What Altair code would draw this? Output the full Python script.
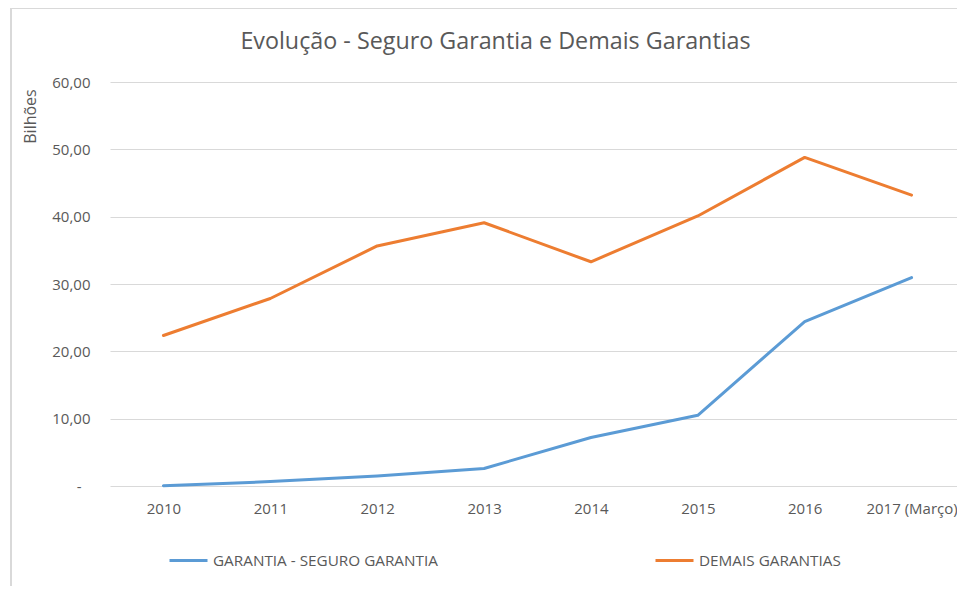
import altair as alt
import pandas as pd

anos = ["2010", "2011", "2012", "2013", "2014", "2015", "2016", "2017 (Março)"]
seguro_garantia = [0.05, 0.65, 1.5, 2.6, 7.2, 10.5, 24.4, 30.95]
demais_garantias = [22.35, 27.85, 35.65, 39.1, 33.3, 40.1, 48.8, 43.2]
series = ["GARANTIA - SEGURO GARANTIA", "DEMAIS GARANTIAS"]
cores = ["#5B9BD5", "#ED7D31"]
y_ticks = [0, 10, 20, 30, 40, 50, 60]

rows = []
for ano, a, b in zip(anos, seguro_garantia, demais_garantias):
    rows.append({"ano": ano, "serie": series[0], "valor": a})
    rows.append({"ano": ano, "serie": series[1], "valor": b})
df = pd.DataFrame(rows)

TXT = "#595959"
FONT = "Open Sans"

lines = alt.Chart(df).mark_line(strokeWidth=3, strokeCap="round", strokeJoin="round").encode(
    x=alt.X("ano:N", sort=anos, title=None,
            axis=alt.Axis(labelAngle=0, ticks=False, domain=False, grid=False,
                          labelPadding=15, labelFontSize=15, labelColor=TXT, labelFont=FONT)),
    y=alt.Y("valor:Q", scale=alt.Scale(domain=[0, 60], nice=False), title="Bilhões",
            axis=alt.Axis(values=y_ticks, ticks=False, domain=False, grid=True,
                          gridColor="#D9D9D9", gridWidth=1,
                          labelExpr="datum.value == 0 ? '-' : replace(format(datum.value, '.2f'), '.', ',')",
                          labelPadding={"condition": {"test": "datum.value === 0", "value": 29}, "value": 20},
                          labelFontSize=15, labelColor=TXT, labelFont=FONT,
                          titleFontSize=16, titleColor=TXT, titleFont=FONT, titleFontWeight="normal",
                          titleAngle=270, titleX=-80, titleY=34, titleAlign="center",
                          titleBaseline="middle")),
    color=alt.Color("serie:N", sort=series,
                    scale=alt.Scale(domain=series, range=cores),
                    legend=alt.Legend(title=None, orient="none", direction="horizontal",
                                      legendX=58, legendY=458, symbolType="stroke",
                                      symbolSize=1444, symbolStrokeWidth=3,
                                      labelFontSize=15.3, labelColor=TXT, labelFont=FONT,
                                      labelLimit=400, labelOffset=4, columnPadding=211)),
)

frame_left = alt.Chart(df).mark_rule(color="#D9D9D9", strokeWidth=2).encode(
    x=alt.value(-99), y=alt.value(-74), y2=alt.value(520))
frame_top = alt.Chart(df).mark_rule(color="#D9D9D9", strokeWidth=2).encode(
    x=alt.value(-99), x2=alt.value(900), y=alt.value(-74))

chart = alt.layer(frame_left, frame_top, lines).properties(
    width=855, height=404,
    autosize=alt.AutoSizeParams(type="none"),
    padding={"left": 102, "top": 74, "right": -8, "bottom": 100},
    title=alt.Title("Evolução - Seguro Garantia e Demais Garantias", fontSize=23.3,
                    font=FONT, fontWeight="normal", color=TXT, anchor="middle",
                    dx=-42, dy=47, offset=0),
).configure_view(stroke=None)

chart.save("out.html", embed_options={"renderer": "svg", "actions": False})
